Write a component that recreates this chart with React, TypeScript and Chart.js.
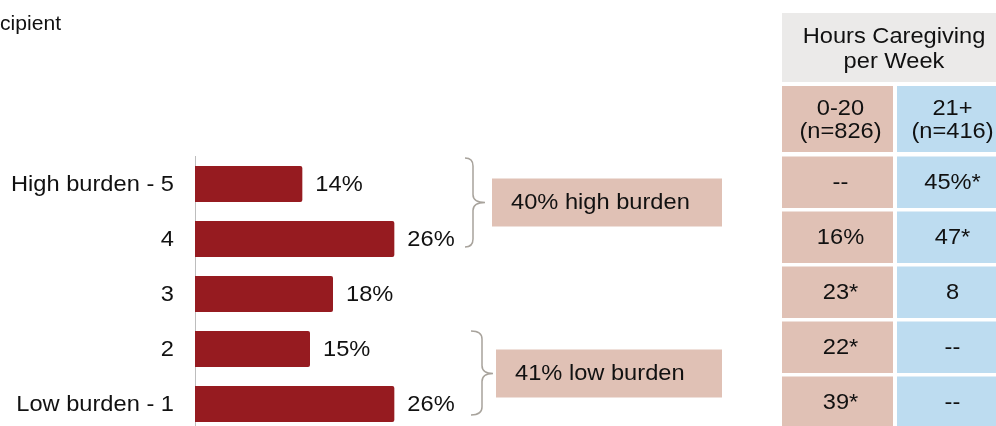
import React, { useEffect, useRef } from "react";
import { Chart, registerables } from "chart.js";

Chart.register(...registerables);

const categories = ["High burden - 5", "4", "3", "2", "Low burden - 1"];
const values = [14, 26, 18, 15, 26];
const valueLabels = ["14%", "26%", "18%", "15%", "26%"];
const groupLabels = ["40% high burden", "41% low burden"];
const titleText = "cipient";
const tableTitle = ["Hours Caregiving", "per Week"];
const colHeaderLeft = ["0-20", "(n=826)"];
const colHeaderRight = ["21+", "(n=416)"];
const colLeft = ["--", "16%", "23*", "22*", "39*"];
const colRight = ["45%*", "47*", "8", "--", "--"];

const FONT = "'Liberation Sans', Arial, Helvetica, sans-serif";
const TEXT = "#111111";
const BAR = "#961B20";
const PINK = "#E0C1B5";
const BLUE = "#BDDCF0";
const GRAY = "#EBEAE9";
const BRACE = "#A8A39C";
const FS = 21.5;
const SX = 1.1;

function txt(ctx: CanvasRenderingContext2D, s: string, x: number, y: number, align: CanvasTextAlign, baseline: CanvasTextBaseline = "middle", size = FS, sx = SX) {
  ctx.save();
  ctx.translate(x, y);
  ctx.scale(sx, 1);
  ctx.font = `${size}px ${FONT}`;
  ctx.fillStyle = TEXT;
  ctx.textAlign = align;
  ctx.textBaseline = baseline;
  ctx.fillText(s, 0, 0);
  ctx.restore();
}

function drawBrace(ctx: CanvasRenderingContext2D, xArm: number, xSpine: number, xTip: number, yTop: number, yMid: number, yBot: number) {
  const r = 8;
  ctx.beginPath();
  ctx.moveTo(xArm, yTop);
  ctx.quadraticCurveTo(xSpine, yTop, xSpine, yTop + r);
  ctx.lineTo(xSpine, yMid - r);
  ctx.quadraticCurveTo(xSpine, yMid, xTip, yMid);
  ctx.quadraticCurveTo(xSpine, yMid, xSpine, yMid + r);
  ctx.lineTo(xSpine, yBot - r);
  ctx.quadraticCurveTo(xSpine, yBot, xArm, yBot);
  ctx.strokeStyle = BRACE;
  ctx.lineWidth = 1.5;
  ctx.stroke();
}

const overlay = {
  id: "overlay",
  afterDraw(chart: any) {
    const ctx: CanvasRenderingContext2D = chart.ctx;
    const xs = chart.scales.x;
    const ys = chart.scales.y;
    ctx.save();

    // title fragment
    txt(ctx, titleText, 0, 30, "left", "alphabetic", 20.5, 1.03);

    // category labels
    categories.forEach((c, i) => {
      txt(ctx, c, 174, ys.getPixelForValue(i) + 1, "right");
    });

    // value labels
    values.forEach((v, i) => {
      txt(ctx, valueLabels[i], xs.getPixelForValue(v) + 13, ys.getPixelForValue(i) + 1, "left");
    });

    // braces
    const c0 = ys.getPixelForValue(0);
    const c1 = ys.getPixelForValue(1);
    const c3 = ys.getPixelForValue(3);
    const c4 = ys.getPixelForValue(4);
    drawBrace(ctx, 465, 473, 485, c0 - 26, (c0 + c1) / 2 - 9, c1 + 8);
    drawBrace(ctx, 471, 482, 493, c3 - 18, (c3 + c4) / 2 - 3, c4 + 11);

    // group boxes
    const boxes = [
      { x: 492, y: (c0 + c1) / 2 - 33, w: 230, h: 48 },
      { x: 496, y: (c3 + c4) / 2 - 27, w: 226, h: 48 },
    ];
    boxes.forEach((b, i) => {
      ctx.fillStyle = PINK;
      ctx.fillRect(b.x, b.y, b.w, b.h);
      txt(ctx, groupLabels[i], b.x + 19, b.y + b.h / 2 + 1, "left");
    });

    // table header
    const lx = 782, lw = 111, rx = 897, rw = 111;
    ctx.fillStyle = GRAY;
    ctx.fillRect(lx, 13, rx + rw - lx, 69);
    txt(ctx, tableTitle[0], 894, 43, "center", "alphabetic");
    txt(ctx, tableTitle[1], 894, 68, "center", "alphabetic");

    ctx.fillStyle = PINK;
    ctx.fillRect(lx, 86, lw, 66);
    ctx.fillStyle = BLUE;
    ctx.fillRect(rx, 86, rw, 66);
    txt(ctx, colHeaderLeft[0], lx + lw / 2 + 3, 115, "center", "alphabetic");
    txt(ctx, colHeaderLeft[1], lx + lw / 2 + 3, 138, "center", "alphabetic");
    txt(ctx, colHeaderRight[0], rx + rw / 2, 115, "center", "alphabetic");
    txt(ctx, colHeaderRight[1], rx + rw / 2, 138, "center", "alphabetic");

    // table rows
    categories.forEach((_, i) => {
      const c = ys.getPixelForValue(i) - 2;
      const top = c - 25.5;
      ctx.fillStyle = PINK;
      ctx.fillRect(lx, top, lw, 51.5);
      ctx.fillStyle = BLUE;
      ctx.fillRect(rx, top, rw, 51.5);
      txt(ctx, colLeft[i], lx + lw / 2 + 3, c + 1, "center");
      txt(ctx, colRight[i], rx + rw / 2, c + 1, "center");
    });

    ctx.restore();
  },
};

export default function App() {
  const ref = useRef<HTMLCanvasElement | null>(null);
  useEffect(() => {
    if (!ref.current) return;
    const chart = new Chart(ref.current, {
      type: "bar",
      data: {
        labels: categories,
        datasets: [
          {
            data: values,
            backgroundColor: BAR,
            borderRadius: 2,
            barPercentage: 0.655,
            categoryPercentage: 1,
          },
        ],
      },
      options: {
        indexAxis: "y",
        animation: false,
        responsive: false,
        maintainAspectRatio: false,
        devicePixelRatio: 1,
        layout: { autoPadding: false, padding: { top: 156.5, bottom: 8.5, left: 0, right: 341 } },
        plugins: { legend: { display: false }, tooltip: { enabled: false } },
        scales: {
          x: { display: false, min: 0, max: 60 },
          y: {
            grid: { display: false, drawTicks: false },
            border: { display: true, color: "#BDBDBD", width: 1 },
            ticks: { display: false },
            afterFit: (s: any) => {
              s.width = 195;
              s.paddingTop = 0;
              s.paddingBottom = 0;
            },
          },
        },
      },
      plugins: [overlay],
    } as any);
    return () => chart.destroy();
  }, []);
  return (
    <div style={{ position: "fixed", left: 0, top: 0, width: 996, height: 426, overflow: "hidden", background: "#fff" }}>
      <canvas ref={ref} width={996} height={440} style={{ display: "block", width: 996, height: 440 }} />
    </div>
  );
}
